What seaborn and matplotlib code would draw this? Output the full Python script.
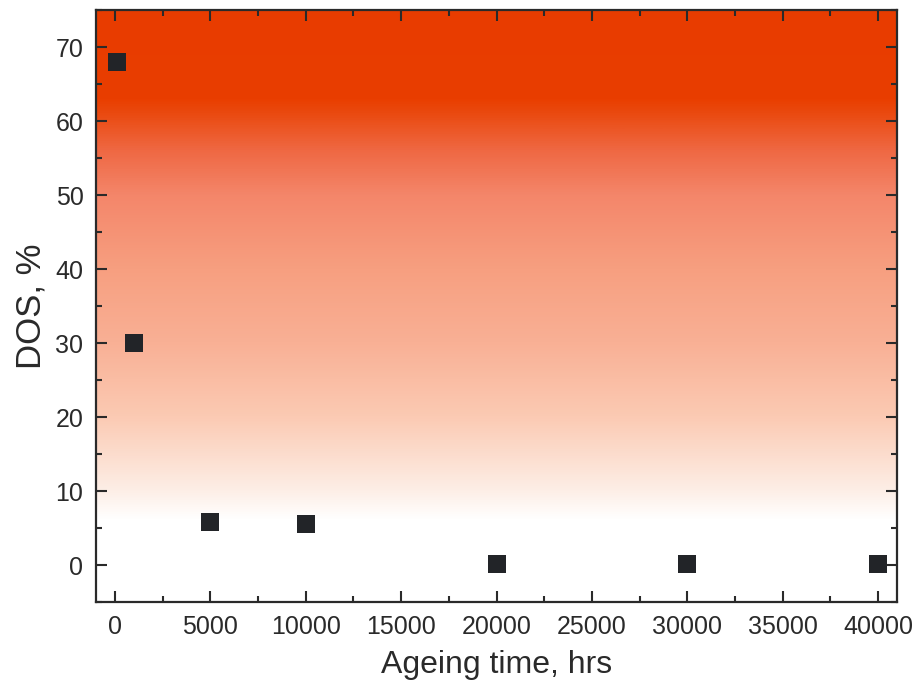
import numpy as np
import pandas as pd
import matplotlib
matplotlib.use("Agg")
import matplotlib.pyplot as plt
from matplotlib.colors import LinearSegmentedColormap
from matplotlib.ticker import MultipleLocator
import seaborn as sns

ageing_time = [100, 1000, 5000, 10000, 20000, 30000, 40000]
dos = [68, 30, 5.8, 5.6, 0.1, 0.1, 0.1]
x_ticks = [0, 5000, 10000, 15000, 20000, 25000, 30000, 35000, 40000]
y_ticks = [0, 10, 20, 30, 40, 50, 60, 70]

sns.set_theme(style="ticks")
plt.rcParams['font.family'] = ['Liberation Sans', 'DejaVu Sans']

fig = plt.figure(figsize=(9.21, 6.86), dpi=100)
ax = fig.add_axes([0.1042, 0.1224, 0.8698, 0.8630])

xmin, xmax, ymin, ymax = -1000, 41000, -5, 75

# background gradient (white at bottom -> orange-red at top)
stops = [(-5, "#ffffff"), (6, "#ffffff"), (10, "#fdeee6"), (20, "#fbcab3"),
         (30, "#f9b095"), (40, "#f79f80"), (50, "#f4866a"), (56, "#ef6843"),
         (61, "#ea4a10"), (63, "#e93e00"), (75, "#e83c00")]
cm = LinearSegmentedColormap.from_list(
    "bg", [((v - ymin) / (ymax - ymin), c) for v, c in stops])
grad = np.linspace(0, 1, 512).reshape(-1, 1)
ax.imshow(grad, extent=[xmin, xmax, ymin, ymax], origin="lower",
          aspect="auto", cmap=cm, zorder=0, interpolation="bilinear")

df = pd.DataFrame({"t": ageing_time, "dos": dos})
sns.scatterplot(data=df, x="t", y="dos", marker="s", s=175, color="#222428",
                edgecolor="#222428", linewidth=0, ax=ax, zorder=3)

ax.set_xlim(xmin, xmax)
ax.set_ylim(ymin, ymax)
ax.set_xticks(x_ticks)
ax.set_yticks(y_ticks)
ax.xaxis.set_minor_locator(MultipleLocator(2500))
ax.yaxis.set_minor_locator(MultipleLocator(5))
ax.tick_params(which="both", direction="in", top=True, right=True,
               colors="#2a2a2a", labelcolor="#2a2a2a", width=1.5)
ax.tick_params(which="major", length=8, labelsize=18, pad=9)
ax.tick_params(which="minor", length=4)
for s in ax.spines.values():
    s.set_color("#2a2a2a")
    s.set_linewidth(1.6)

ax.set_xlabel("Ageing time, hrs", fontsize=23, color="#2a2a2a", labelpad=8)
ax.set_ylabel("DOS, %", fontsize=25, color="#2a2a2a", labelpad=6)

fig.savefig("out.png", dpi=100)
